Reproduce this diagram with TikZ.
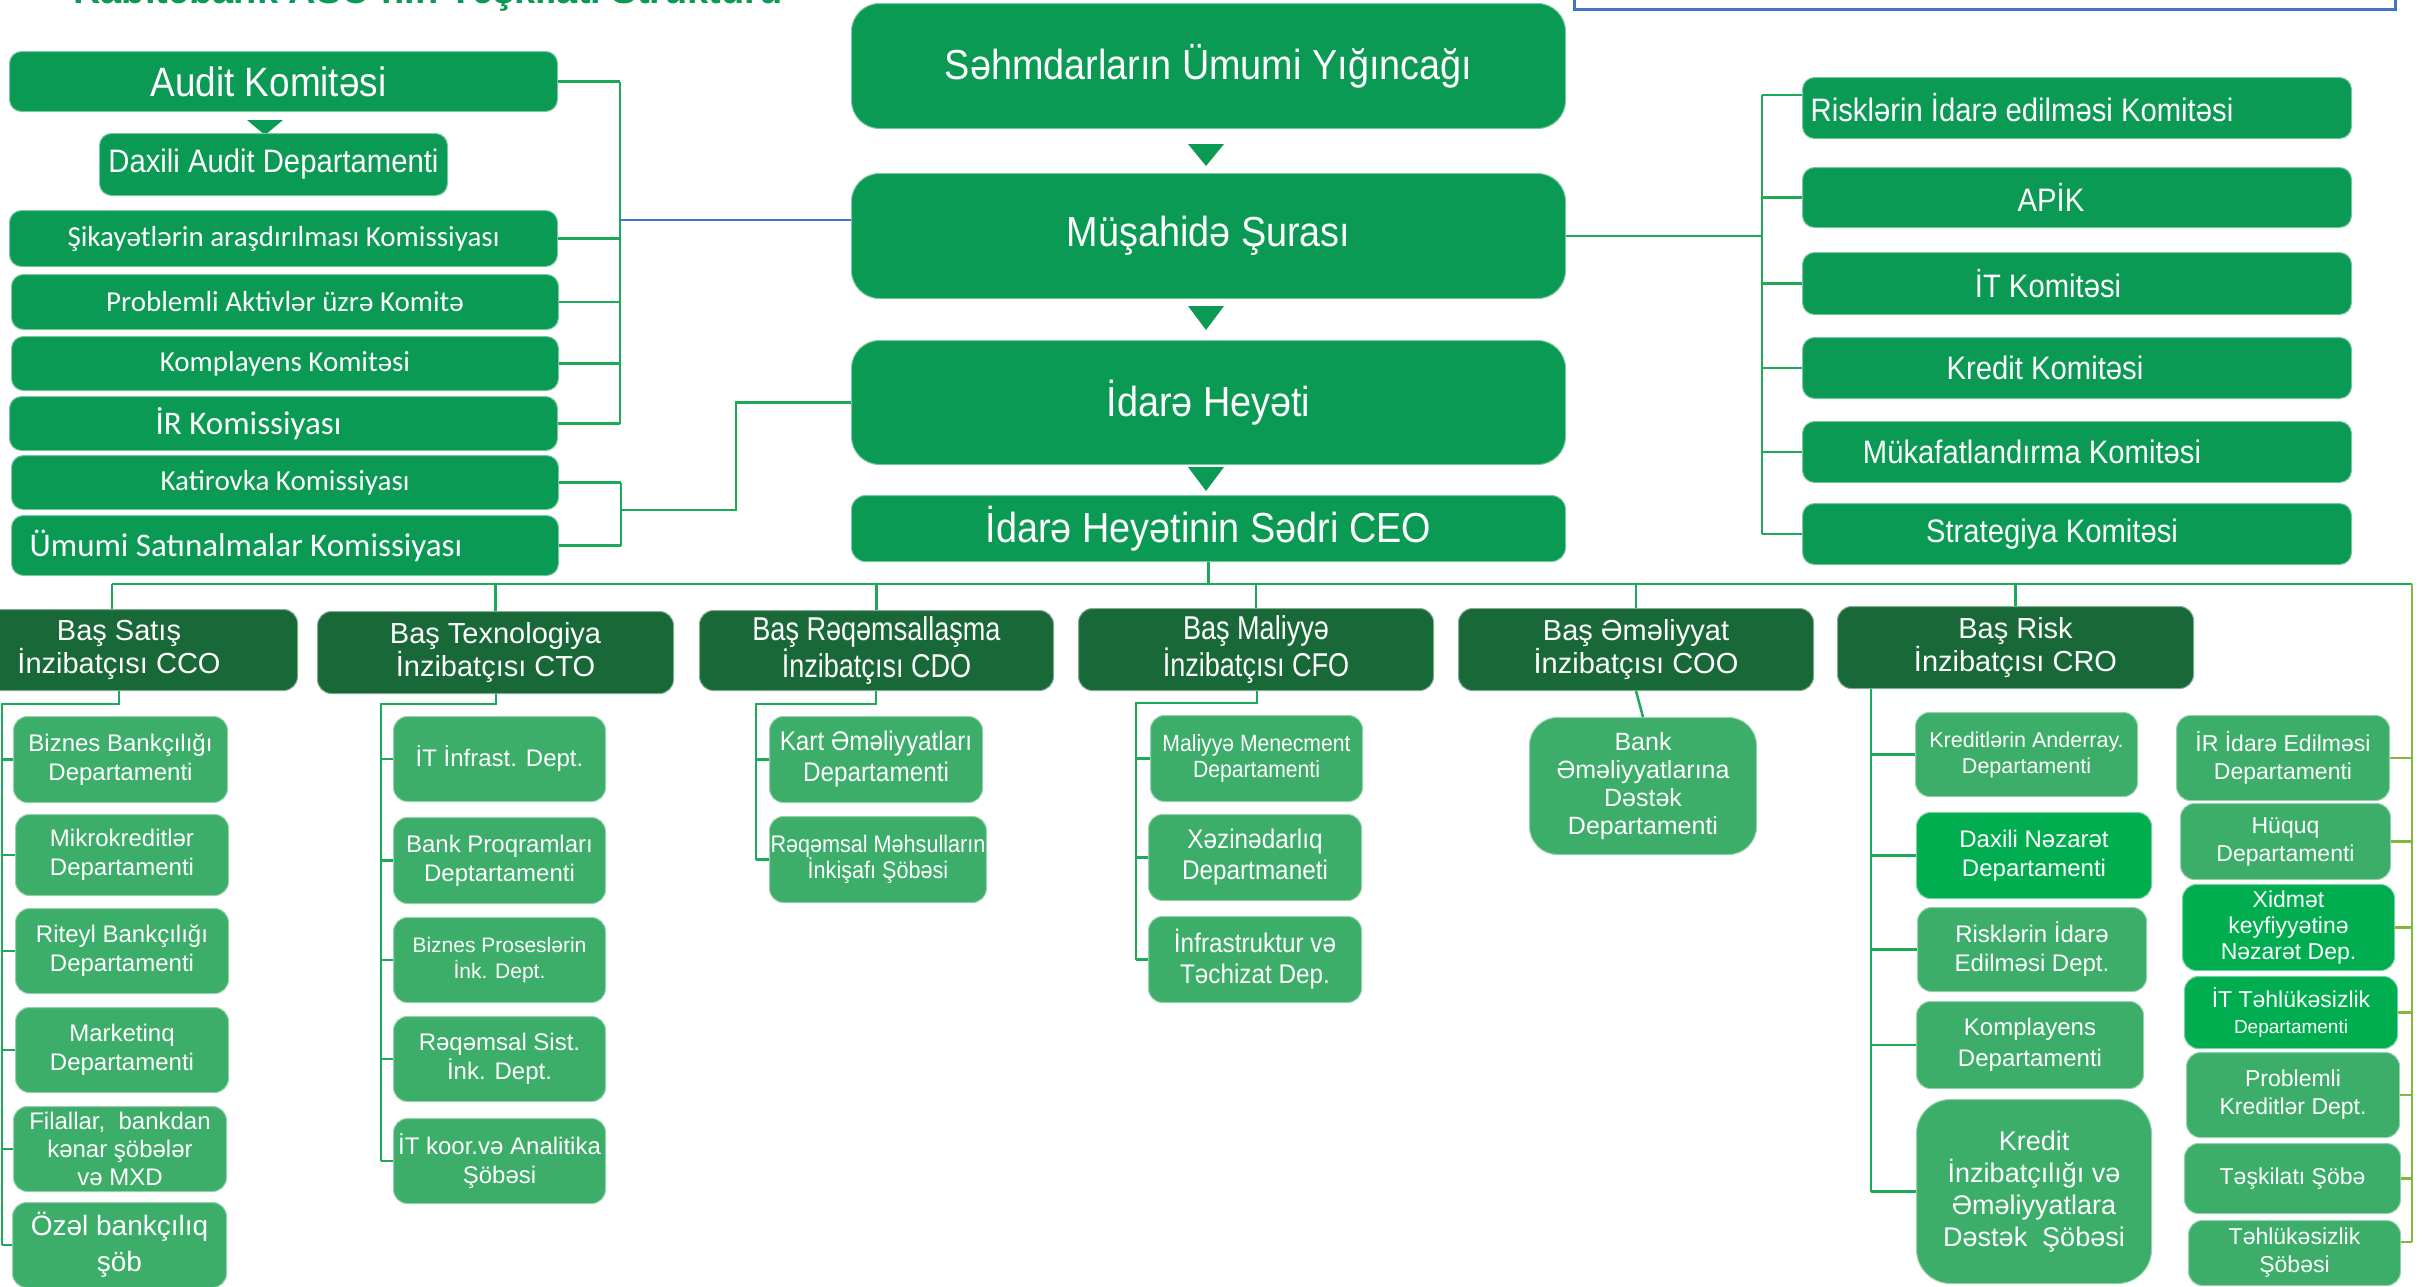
\documentclass[tikz,border=0pt]{standalone}
\usepackage{fontspec}
\setmainfont{Liberation Sans}
\newfontfamily\narf{Liberation Sans}[FakeStretch=0.82]
\newfontfamily\nars{Liberation Sans}[FakeStretch=0.9]
\newfontfamily\calf{Carlito}
\definecolor{mainG}{RGB}{10,154,84}
\definecolor{darkG}{RGB}{25,104,56}
\definecolor{lightG}{RGB}{60,174,106}
\definecolor{brightG}{RGB}{0,174,80}
\definecolor{lineG}{RGB}{28,170,88}
\definecolor{olivG}{RGB}{130,185,60}
\definecolor{blueC}{RGB}{68,114,196}
\newcommand\fsz[2]{\fontsize{#1}{#2}\selectfont}
\newcommand\bx[7]{\pgfmathsetmacro\bxw{#5-#3}\pgfmathsetmacro\bxh{#6-#4}%
  \node[#1,minimum width=\bxw pt,minimum height=\bxh pt] (#2) at (#3,#4) {#7};}
\tikzset{
  boxbase/.style={anchor=north west, text=white, align=center, inner sep=1pt, rounded corners=12pt, line width=1pt},
  mainbox/.style={boxbase, fill=mainG, draw=mainG!55!white},
  execbox/.style={boxbase, fill=darkG, draw=darkG!55!white, rounded corners=14pt},
  subbox/.style={boxbase, fill=lightG, draw=lightG!55!white, rounded corners=14pt},
  brightbox/.style={boxbase, fill=brightG, draw=brightG!55!white, rounded corners=14pt},
  conn/.style={draw=lineG, line width=2.5pt},
  oconn/.style={draw=olivG, line width=2.5pt},
  bconn/.style={draw=blueC, line width=2.5pt},
  trishape/.style={fill=mainG}
}
\begin{document}
\begin{tikzpicture}[x=1pt,y=-1pt]
\useasboundingbox (0,0) rectangle (2425,1286);
% title and legend frame (cut by the page edge)
\node[anchor=base east, text=mainG, font=\bfseries\fsz{38}{44}, inner sep=0] (title) at (783,3) {Rabitəbank ASC-nin Təşkilati Strukturu};
\node[draw=blueC, line width=3pt, minimum width=821pt, minimum height=60pt, anchor=south west, inner sep=0] (legend) at (1573,11) {};
% central chain
\bx{mainbox,rounded corners=28pt,font=\nars\fsz{42}{48}}{sah}{851}{3}{1565}{128}{Səhmdarların Ümumi Yığıncağı}
\bx{mainbox,rounded corners=28pt,font=\nars\fsz{42}{48}}{mus}{851}{173}{1565}{298}{Müşahidə Şurası}
\bx{mainbox,rounded corners=28pt,font=\nars\fsz{42}{48}}{ih}{851}{340}{1565}{464}{İdarə Heyəti}
\bx{mainbox,rounded corners=14pt,font=\nars\fsz{42}{48}}{ceo}{851}{495}{1565}{561}{İdarə Heyətinin Sədri CEO}
\fill[trishape] (1188,144) -- (1224,144) -- (1206,166) -- cycle;
\fill[trishape] (1188,306) -- (1224,306) -- (1206,330) -- cycle;
\fill[trishape] (1188,467) -- (1224,467) -- (1206,491) -- cycle;
% left committees
\bx{mainbox,font=\nars\fsz{41}{46}}{audit}{9}{51}{557}{111}{Audit Komitəsi\hspace*{30pt}}
\fill[trishape] (247,120) -- (283,120) -- (265,135) -- cycle;
\bx{mainbox,font=\nars\fsz{32.5}{38}}{dad}{99}{133}{447}{195}{Daxili Audit Departamenti}
\bx{mainbox,font=\calf\fsz{29}{34}}{sik}{9}{210}{557}{266}{Şikayətlərin araşdırılması Komissiyası}
\bx{mainbox,font=\calf\fsz{29}{34}}{prob}{11}{274}{558}{329}{Problemli Aktivlər üzrə Komitə}
\bx{mainbox,font=\calf\fsz{29}{34}}{komk}{11}{336}{558}{390}{Komplayens Komitəsi}
\bx{mainbox,font=\calf\fsz{33}{38}}{irk}{9}{396}{557}{450}{İR Komissiyası\hspace*{70pt}}
\bx{mainbox,font=\calf\fsz{29}{34}}{kat}{11}{455}{558}{509}{Katirovka Komissiyası}
\bx{mainbox,font=\calf\fsz{33}{38}}{umumi}{11}{515}{558}{575}{Ümumi Satınalmalar Komissiyası\hspace*{78pt}}
% right committees
\bx{mainbox,font=\nars\fsz{32.5}{38}}{risk}{1802}{77}{2351}{138}{Risklərin İdarə edilməsi Komitəsi\hspace*{110pt}}
\bx{mainbox,font=\nars\fsz{32.5}{38}}{apik}{1802}{167}{2351}{227}{APİK\hspace*{52pt}}
\bx{mainbox,font=\nars\fsz{32.5}{38}}{itk}{1802}{252}{2351}{314}{İT Komitəsi\hspace*{58pt}}
\bx{mainbox,font=\nars\fsz{32.5}{38}}{kred}{1802}{337}{2351}{398}{Kredit Komitəsi\hspace*{64pt}}
\bx{mainbox,font=\nars\fsz{32.5}{38}}{muk}{1802}{421}{2351}{482}{Mükafatlandırma Komitəsi\hspace*{90pt}}
\bx{mainbox,font=\nars\fsz{32.5}{38}}{strat}{1802}{503}{2351}{564}{Strategiya Komitəsi\hspace*{50pt}}
% executives
\bx{execbox,font=\fsz{29}{33}}{cco}{-60}{609}{297}{690}{Baş Satış\\İnzibatçısı CCO}
\bx{execbox,font=\fsz{29}{33}}{cto}{317}{611}{673}{693}{Baş Texnologiya\\İnzibatçısı CTO}
\bx{execbox,font=\narf\fsz{33}{35}}{cdo}{699}{610}{1053}{690}{Baş Rəqəmsallaşma\\İnzibatçısı CDO}
\bx{execbox,font=\narf\fsz{33}{35}}{cfo}{1078}{608}{1433}{690}{Baş Maliyyə\\İnzibatçısı CFO}
\bx{execbox,font=\fsz{29}{33}}{coo}{1458}{608}{1813}{690}{Baş Əməliyyat\\İnzibatçısı COO}
\bx{execbox,font=\fsz{29}{33}}{cro}{1837}{606}{2193}{688}{Baş Risk\\İnzibatçısı CRO}
% CCO departments
\bx{subbox,font=\fsz{24}{29}}{bb}{13}{716}{227}{802}{Biznes Bankçılığı\\Departamenti}
\bx{subbox,font=\fsz{24}{29}}{mk}{15}{814}{228}{895}{Mikrokreditlər\\Departamenti}
\bx{subbox,font=\fsz{24}{29}}{rb}{15}{908}{228}{993}{Riteyl Bankçılığı\\Departamenti}
\bx{subbox,font=\fsz{24}{29}}{mq}{15}{1007}{228}{1092}{Marketinq\\Departamenti}
\bx{subbox,font=\fsz{24}{28}}{fil}{13}{1106}{226}{1191}{Filallar,~ bankdan\\kənar şöbələr\\və MXD}
\bx{subbox,font=\fsz{28}{36}}{oz}{12}{1202}{226}{1287}{Özəl bankçılıq\\şöb}
% CTO departments
\bx{subbox,font=\fsz{24}{29}}{iti}{393}{716}{605}{801}{İT İnfrast. Dept.}
\bx{subbox,font=\fsz{24}{29}}{bp}{393}{817}{605}{903}{Bank Proqramları\\Deptartamenti}
\bx{subbox,font=\fsz{21}{26}}{bpr}{393}{917}{605}{1002}{Biznes Proseslərin\\İnk. Dept.}
\bx{subbox,font=\fsz{24}{29}}{rs}{393}{1016}{605}{1101}{Rəqəmsal Sist.\\İnk. Dept.}
\bx{subbox,font=\fsz{24}{29}}{itko}{393}{1118}{605}{1203}{İT koor.və Analitika\\Şöbəsi}
% CDO departments
\bx{subbox,font=\nars\fsz{27}{31}}{kart}{769}{716}{982}{802}{Kart Əməliyyatları\\Departamenti}
\bx{subbox,font=\nars\fsz{24}{26}}{rm}{769}{816}{982}{902}{Rəqəmsal Məhsulların\\İnkişafı Şöbəsi}
% CFO departments
\bx{subbox,font=\nars\fsz{23.5}{26}}{mm}{1150}{715}{1362}{801}{Maliyyə Menecment\\Departamenti}
\bx{subbox,font=\nars\fsz{27}{31}}{xz}{1148}{814}{1361}{900}{Xəzinədarlıq\\Departmaneti}
\bx{subbox,font=\nars\fsz{27}{31}}{inf}{1148}{916}{1361}{1002}{İnfrastruktur və\\Təchizat Dep.}
% COO department
\bx{subbox,rounded corners=28pt,font=\fsz{25}{28}}{bad}{1529}{717}{1756}{854}{Bank\\Əməliyyatlarına\\Dəstək\\Departamenti}
% CRO departments
\bx{subbox,font=\fsz{21.5}{26}}{ka}{1915}{712}{2137}{796}{Kreditlərin Anderray.\\Departamenti}
\bx{brightbox,font=\fsz{24}{29}}{dn}{1916}{812}{2151}{898}{Daxili Nəzarət\\Departamenti}
\bx{subbox,font=\fsz{24}{29}}{rie}{1917}{907}{2146}{991}{Risklərin İdarə\\Edilməsi Dept.}
\bx{subbox,font=\fsz{24}{31}}{kd}{1916}{1001}{2143}{1088}{Komplayens\\Departamenti}
\bx{subbox,rounded corners=34pt,font=\fsz{27}{32}}{kid}{1916}{1099}{2151}{1283}{Kredit\\İnzibatçılığı və\\Əməliyyatlara\\Dəstək~ Şöbəsi}
% departments on the right
\bx{subbox,font=\fsz{23}{28}}{ird}{2176}{715}{2389}{800}{İR İdarə Edilməsi\\Departamenti}
\bx{subbox,font=\fsz{23}{28}}{huq}{2180}{803}{2390}{879}{Hüquq\\Departamenti}
\bx{brightbox,font=\fsz{23}{26}}{xid}{2182}{884}{2394}{970}{Xidmət\\keyfiyyətinə\\Nəzarət Dep.}
\bx{brightbox,font=\fsz{23}{26}}{itt}{2184}{976}{2397}{1048}{İT Təhlükəsizlik\\{\fsz{19}{22}Departamenti}}
\bx{subbox,font=\fsz{23}{28}}{pkd}{2186}{1052}{2399}{1137}{Problemli\\Kreditlər Dept.}
\bx{subbox,font=\fsz{23}{28}}{tsk}{2184}{1143}{2400}{1213}{Təşkilatı Şöbə}
\bx{subbox,font=\fsz{23}{28}}{tsb}{2188}{1220}{2400}{1285}{Təhlükəsizlik\\Şöbəsi}
% ---- connectors ----
% left bracket to Müşahidə Şurası
\coordinate (lbx) at (620,0);
\foreach \n in {audit,sik,prob,komk,irk} {\draw[conn] (\n.east) -- (\n.east -| lbx);}
\draw[conn] (audit.east -| lbx) -- (irk.east -| lbx);
\coordinate (bl) at (620,220);
\draw[bconn] (bl) -- (bl -| mus.west);
% second bracket to İdarə Heyəti
\coordinate (lb2) at (621,0);
\foreach \n in {kat,umumi} {\draw[conn] (\n.east) -- (\n.east -| lb2);}
\draw[conn] (kat.east -| lb2) -- (umumi.east -| lb2);
\coordinate (mid2) at (621,510);
\coordinate (elb) at (736,510);
\draw[conn] (mid2) -- (elb) |- (ih.west);
% right bracket
\coordinate (rbx) at (1762,0);
\coordinate (rt) at (1762,95);
\draw[conn] (mus.east) -- (mus.east -| rbx);
\draw[conn] (rt) -- (rt -| risk.west);
\foreach \n in {apik,itk,kred,muk,strat} {\draw[conn] (\n.west) -- (\n.west -| rbx);}
\draw[conn] (rt) -- (strat.west -| rbx);
% CEO bus
\coordinate (busL) at (112,584);
\coordinate (busR) at (2412,584);
\draw[conn] (ceo.south) -- (ceo.south |- busL);
\draw[conn] (busL) -- (busR);
\draw[conn] (busL) -- (busL |- cco.north);
\foreach \n in {cto,cdo,cfo,coo,cro} {\draw[conn] (\n.north |- busL) -- (\n.north);}
% right column from bus
\coordinate (rEnd) at (2412,1242);
\draw[oconn] (busR) -- (rEnd);
\foreach \n in {ird,huq,xid,itt,pkd,tsk} {\draw[oconn] (\n.east) -- (\n.east -| busR);}
\draw[oconn] (rEnd) -- (rEnd -| tsb.east);
% CCO
\coordinate (c1) at (119,704); \coordinate (c1x) at (2,704);
\draw[conn] (cco.south -| c1) -- (c1) -- (c1x) -- (c1x |- oz.west);
\foreach \n in {bb,mk,rb,mq,fil,oz} {\draw[conn] (\n.west) -- (\n.west -| c1x);}
% CTO
\coordinate (c2) at (496,704); \coordinate (c2x) at (381,704);
\draw[conn] (cto.south -| c2) -- (c2) -- (c2x) -- (c2x |- itko.west);
\foreach \n in {iti,bp,bpr,rs,itko} {\draw[conn] (\n.west) -- (\n.west -| c2x);}
% CDO
\coordinate (c3) at (876,704); \coordinate (c3x) at (756,704);
\draw[conn] (cdo.south -| c3) -- (c3) -- (c3x) -- (c3x |- rm.west);
\foreach \n in {kart,rm} {\draw[conn] (\n.west) -- (\n.west -| c3x);}
% CFO
\coordinate (c4) at (1257,703); \coordinate (c4x) at (1136,703);
\draw[conn] (cfo.south -| c4) -- (c4) -- (c4x) -- (c4x |- inf.west);
\foreach \n in {mm,xz,inf} {\draw[conn] (\n.west) -- (\n.west -| c4x);}
% COO
\draw[conn] (coo.south) -- (bad.north);
% CRO
\coordinate (c6x) at (1871,0);
\draw[conn] (cro.south -| c6x) -- (kid.west -| c6x);
\foreach \n in {ka,dn,rie,kd,kid} {\draw[conn] (\n.west) -- (\n.west -| c6x);}
\end{tikzpicture}
\end{document}
